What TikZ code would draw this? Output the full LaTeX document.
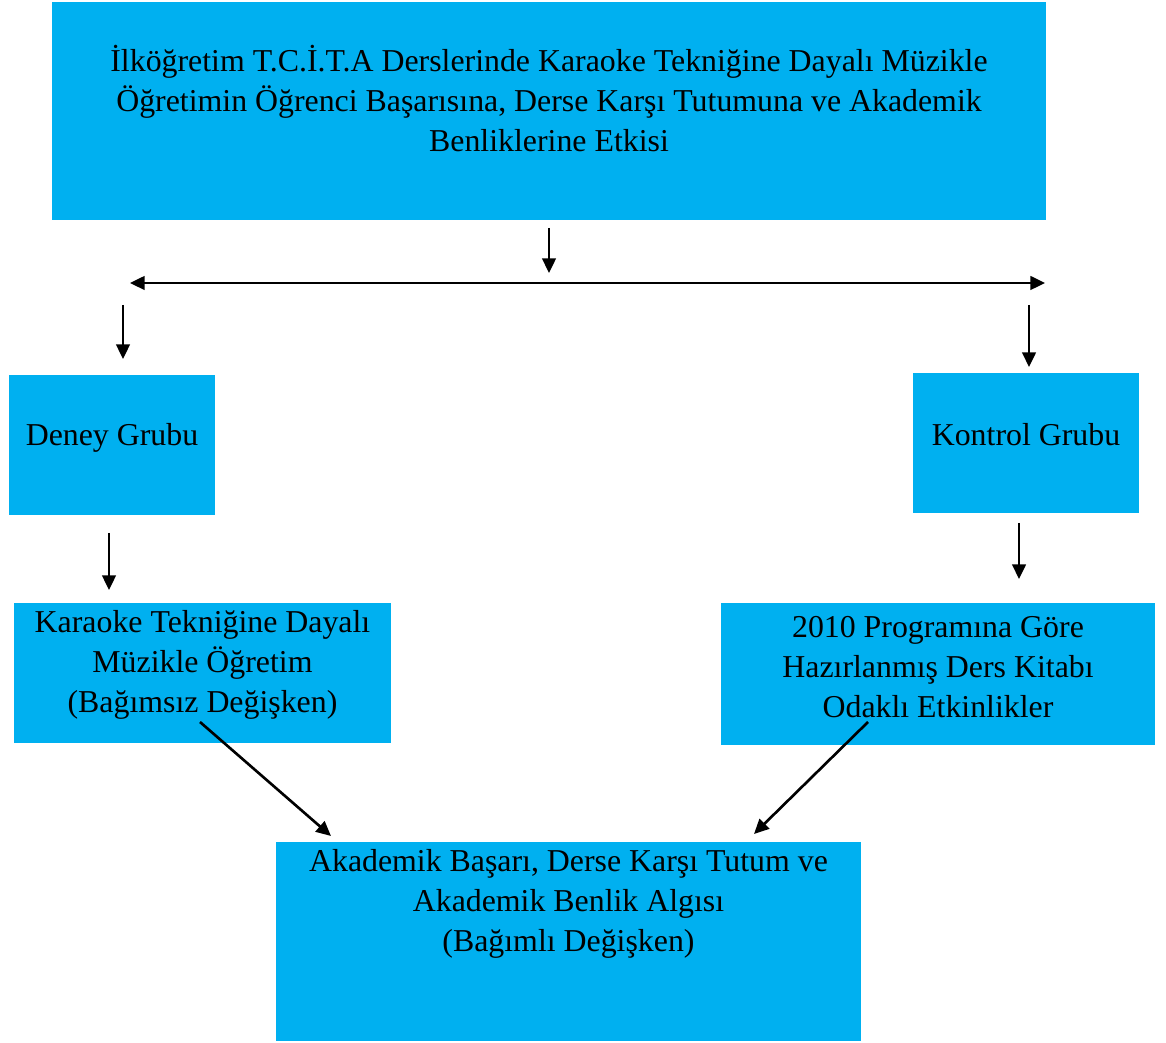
\documentclass[tikz,border=0pt]{standalone}
\usepackage{fontspec}
\setmainfont{Liberation Serif}
\usetikzlibrary{arrows.meta}
\definecolor{boxblue}{RGB}{0,176,240}
\newcommand{\pxu}{0.38pt}

\begin{document}
\begin{tikzpicture}[x=0.38pt, y=-0.38pt,
        box/.style={rectangle, fill=boxblue, draw=none, inner sep=0pt},
        txt/.style={align=center, inner sep=0pt, font=\fontsize{12.1}{15.2}\selectfont},
        arr/.style={line width=1pt, -{Triangle[length=5.6pt, width=5.2pt]}}]
        \useasboundingbox (0,0) rectangle (1166,1043);

        % boxes
        \node[box, minimum width=994*\pxu, minimum height=218*\pxu] (title) at (549,111) {};
        \node[box, minimum width=206*\pxu, minimum height=140*\pxu] (deney) at (112,445) {};
        \node[box, minimum width=226*\pxu, minimum height=140*\pxu] (kontrol) at (1026,443) {};
        \node[box, minimum width=377*\pxu, minimum height=140*\pxu] (karaoke) at (202.5,673) {};
        \node[box, minimum width=434*\pxu, minimum height=142*\pxu] (program) at (938,674) {};
        \node[box, minimum width=585*\pxu, minimum height=199*\pxu] (sonuc) at (568.5,941.5) {};

        % texts
        \node[txt] (title-t) at (549,99)
            {İlköğretim T.C.İ.T.A Derslerinde Karaoke Tekniğine Dayalı Müzikle\\
             Öğretimin Öğrenci Başarısına, Derse Karşı Tutumuna ve Akademik\\
             Benliklerine Etkisi};
        \node[txt] (deney-t) at (112,438) {Deney Grubu};
        \node[txt] (kontrol-t) at (1026,435) {Kontrol Grubu};
        \node[txt] (karaoke-t) at (202.5,665)
            {Karaoke Tekniğine Dayalı\\ Müzikle Öğretim\\ (Bağımsız Değişken)};
        \node[txt] (program-t) at (938,667)
            {2010 Programına Göre\\ Hazırlanmış Ders Kitabı\\ Odaklı Etkinlikler};
        \node[txt] (sonuc-t) at (568.5,904)
            {Akademik Başarı, Derse Karşı Tutum ve\\ Akademik Benlik Algısı\\ (Bağımlı Değişken)};

        % arrow ends
        \coordinate (split-l) at (130,283);
        \coordinate (split-r) at (1045,283);
        \coordinate (down-a) at (549,228);
        \coordinate (down-b) at (549,273);
        \coordinate (left-a) at (123,305);
        \coordinate (left-b) at (123,359);
        \coordinate (right-a) at (1029,305);
        \coordinate (right-b) at (1029,367);
        \coordinate (deney-a) at (109,533);
        \coordinate (deney-b) at (109,590);
        \coordinate (kontrol-a) at (1019,523);
        \coordinate (kontrol-b) at (1019,579);
        \coordinate (diag-la) at (200,722);
        \coordinate (diag-lb) at (331,836);
        \coordinate (diag-ra) at (868,722);
        \coordinate (diag-rb) at (754,834);

        % arrows
        \draw[arr] (down-a) -- (down-b);
        \draw[arr, {Triangle[length=5.6pt, width=5.2pt]}-{Triangle[length=5.6pt, width=5.2pt]}] (split-l) -- (split-r);
        \draw[arr] (left-a) -- (left-b);
        \draw[arr] (right-a) -- (right-b);
        \draw[arr] (deney-a) -- (deney-b);
        \draw[arr] (kontrol-a) -- (kontrol-b);
        \draw[arr] (diag-la) -- (diag-lb);
        \draw[arr] (diag-ra) -- (diag-rb);
\end{tikzpicture}
\end{document}
